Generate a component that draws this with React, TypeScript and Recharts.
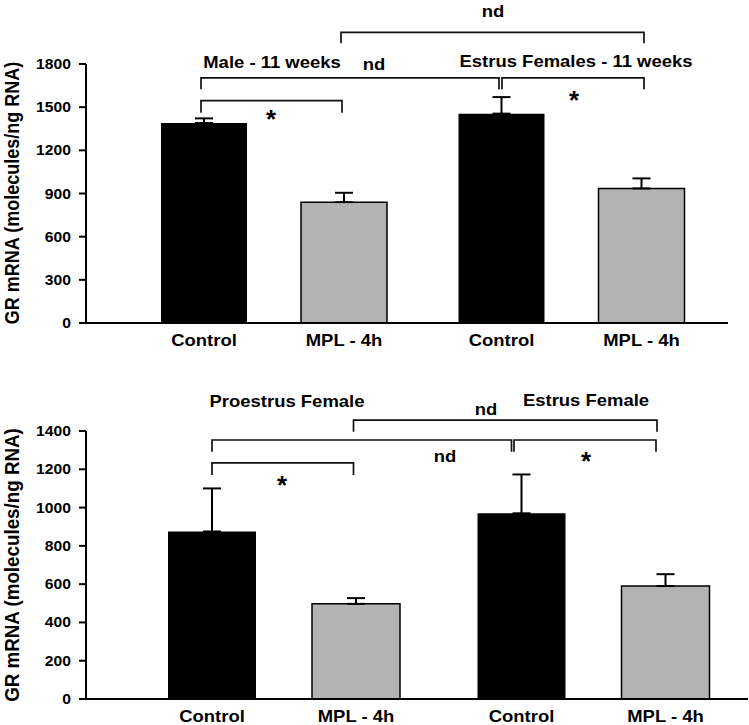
import { BarChart, Bar, XAxis, YAxis, ErrorBar, LabelList, Customized } from 'recharts';
import * as Recharts from 'recharts';

const seriesNames = ['Control', 'MPL - 4h'];

// top panel: male vs estrus female, 11 weeks
const topGroups = ['Male - 11 weeks', 'Estrus Females - 11 weeks'];
const topControl = [1390, 1455];
const topControlErr = [32, 115];
const topMpl = [840, 935];
const topMplErr = [65, 70];
const topTicks = [0, 300, 600, 900, 1200, 1500, 1800];

// bottom panel: proestrus vs estrus female
const bottomGroups = ['Proestrus Female', 'Estrus Female'];
const bottomControl = [875, 970];
const bottomControlErr = [225, 203];
const bottomMpl = [497, 590];
const bottomMplErr = [30, 62];
const bottomTicks = [0, 200, 400, 600, 800, 1000, 1200, 1400];

// significance brackets: bar index 0..3, levels in y units
type Bracket = { from: number; to: number; top: number; foot: number; dx: [number, number] };
const topBrackets: Bracket[] = [
  { from: 0, to: 1, top: 1545, foot: 1461, dx: [-2, -1] },
  { from: 0, to: 2, top: 1703, foot: 1624, dx: [-2, -1.5] },
  { from: 2, to: 3, top: 1703, foot: 1624, dx: [1.5, 3.5] },
  { from: 1, to: 3, top: 2020, foot: 1944, dx: [-2, 3.5] },
];
const bottomBrackets: Bracket[] = [
  { from: 0, to: 1, top: 1234, foot: 1170, dx: [1, -1.5] },
  { from: 0, to: 2, top: 1353, foot: 1292, dx: [1, -9] },
  { from: 2, to: 3, top: 1353, foot: 1292, dx: [-6.5, -8.5] },
  { from: 1, to: 3, top: 1457, foot: 1396, dx: [-1.5, -7.5] },
];

type Note = { text: string; x: number; y: number; size: number };
const topNotes: Note[] = [
  { text: topGroups[0], x: 272, y: 68, size: 16.5 },
  { text: topGroups[1], x: 576, y: 67, size: 16.5 },
  { text: 'nd', x: 493, y: 17, size: 16.5 },
  { text: 'nd', x: 374, y: 70, size: 16.5 },
  { text: '*', x: 271, y: 128, size: 26 },
  { text: '*', x: 574, y: 109, size: 26 },
];
const bottomNotes: Note[] = [
  { text: bottomGroups[0], x: 287, y: 47, size: 16.5 },
  { text: bottomGroups[1], x: 586, y: 46, size: 16.5 },
  { text: 'nd', x: 486, y: 55, size: 16.5 },
  { text: 'nd', x: 445, y: 102, size: 16.5 },
  { text: '*', x: 282, y: 134, size: 26 },
  { text: '*', x: 586, y: 110, size: 26 },
];

const FONT = "'Liberation Sans', Arial, Helvetica, sans-serif";
const SX = 1.12;
const usePlotAreaMaybe: () => any = (Recharts as any).usePlotArea ?? (() => undefined);

function SText({ x, y, size, sx = SX, rotate = 0, anchor = 'middle', children }: any) {
  return (
    <text
      transform={`translate(${x},${y}) scale(${sx},1)${rotate ? ` rotate(${rotate})` : ''}`}
      textAnchor={anchor}
      fontFamily={FONT}
      fontWeight={700}
      fontSize={size}
      fill="#000"
    >
      {children}
    </text>
  );
}

const renderYTick = (p: any) => (
  <SText x={p.x} y={p.y + 14 * 0.36} size={14} sx={1.12} anchor="end">
    {p.payload.value}
  </SText>
);

const nameLabel = (name: string) => (p: any) => {
  const vb = p.viewBox && p.viewBox.width != null ? p.viewBox : p;
  const cx = Number(vb.x) + Number(vb.width) / 2;
  const bottom = Number(vb.y) + Number(vb.height);
  return (
    <SText key={`${name}-${p.index}`} x={cx} y={bottom + 23} size={16.5}>
      {name}
    </SText>
  );
};

interface PanelCfg {
  groups: string[];
  control: number[];
  controlErr: number[];
  mpl: number[];
  mplErr: number[];
  ticks: number[];
  brackets: Bracket[];
  notes: Note[];
  top: number;
  height: number;
  marginTop: number;
  marginRight: number;
  xAxisH: number;
  padL: number;
  padR: number;
  barSize: number;
  barGap: number;
  title: { x: number; y: number; size: number };
}

function Annotations({ cfg }: { cfg: PanelCfg }) {
  const area = usePlotAreaMaybe();
  const yMax = cfg.ticks[cfg.ticks.length - 1];
  const plot =
    area && Number.isFinite(area.width)
      ? area
      : {
          x: 86,
          y: cfg.marginTop,
          width: 749 - 86 - cfg.marginRight,
          height: cfg.height - cfg.marginTop - cfg.xAxisH,
        };
  const yOf = (v: number) => plot.y + plot.height * (1 - v / yMax);
  const band = (plot.width - cfg.padL - cfg.padR) / 2;
  const off = Math.floor((band - (cfg.barSize * 2 + cfg.barGap)) / 2);
  const xOf = (i: number) =>
    plot.x + cfg.padL + Math.floor(i / 2) * band + off + (i % 2) * (cfg.barSize + cfg.barGap) + cfg.barSize / 2;

  return (
    <g>
      {cfg.brackets.map((b, i) => {
        const x1 = xOf(b.from) + b.dx[0];
        const x2 = xOf(b.to) + b.dx[1];
        return (
          <path
            key={i}
            d={`M${x1},${yOf(b.foot)}V${yOf(b.top)}H${x2}V${yOf(b.foot)}`}
            fill="none"
            stroke="#111"
            strokeWidth={1.7}
          />
        );
      })}
      {cfg.notes.map((n, i) => (
        <SText key={i} x={n.x} y={n.y} size={n.size} sx={n.text === '*' ? 1 : SX}>
          {n.text}
        </SText>
      ))}
      <SText x={cfg.title.x} y={cfg.title.y} size={cfg.title.size} rotate={-90}>
        GR mRNA (molecules/ng RNA)
      </SText>
    </g>
  );
}

function Panel({ cfg }: { cfg: PanelCfg }) {
  const data = cfg.groups.map((g, i) => ({
    group: g,
    control: cfg.control[i],
    controlErr: [0, cfg.controlErr[i]],
    mpl: cfg.mpl[i],
    mplErr: [0, cfg.mplErr[i]],
  }));
  const yMax = cfg.ticks[cfg.ticks.length - 1];
  return (
    <div style={{ position: 'absolute', left: 0, top: cfg.top }}>
      <BarChart
        width={749}
        height={cfg.height}
        data={data}
        margin={{ top: cfg.marginTop, right: cfg.marginRight, bottom: 0, left: 0 }}
        barSize={cfg.barSize}
        barGap={cfg.barGap}
      >
        <XAxis
          dataKey="group"
          tick={false}
          tickLine={false}
          axisLine={{ stroke: '#000', strokeWidth: 2 }}
          height={cfg.xAxisH}
          padding={{ left: cfg.padL, right: cfg.padR }}
        />
        <YAxis
          width={86}
          domain={[0, yMax]}
          ticks={cfg.ticks}
          interval={0}
          tick={renderYTick}
          tickSize={7}
          tickMargin={8}
          tickLine={{ stroke: '#000', strokeWidth: 2 }}
          axisLine={{ stroke: '#000', strokeWidth: 2 }}
          allowDataOverflow
        />
        <Bar dataKey="control" fill="#000" isAnimationActive={false}>
          <ErrorBar dataKey="controlErr" width={9} stroke="#000" strokeWidth={2} isAnimationActive={false} />
          <LabelList dataKey="control" content={nameLabel(seriesNames[0])} />
        </Bar>
        <Bar dataKey="mpl" fill="#b3b3b3" stroke="#000" strokeWidth={1.5} isAnimationActive={false}>
          <ErrorBar dataKey="mplErr" width={9} stroke="#000" strokeWidth={2} isAnimationActive={false} />
          <LabelList dataKey="mpl" content={nameLabel(seriesNames[1])} />
        </Bar>
        <Customized component={<Annotations cfg={cfg} />} />
      </BarChart>
    </div>
  );
}

const topCfg: PanelCfg = {
  groups: topGroups,
  control: topControl,
  controlErr: topControlErr,
  mpl: topMpl,
  mplErr: topMplErr,
  ticks: topTicks,
  brackets: topBrackets,
  notes: topNotes,
  top: 0,
  height: 353,
  marginTop: 64,
  marginRight: 21,
  xAxisH: 30,
  padL: 39,
  padR: 8,
  barSize: 86,
  barGap: 54,
  title: { x: 19, y: 193, size: 18 },
};

const bottomCfg: PanelCfg = {
  groups: bottomGroups,
  control: bottomControl,
  controlErr: bottomControlErr,
  mpl: bottomMpl,
  mplErr: bottomMplErr,
  ticks: bottomTicks,
  brackets: bottomBrackets,
  notes: bottomNotes,
  top: 360,
  height: 365,
  marginTop: 71,
  marginRight: 1,
  xAxisH: 26,
  padL: 43,
  padR: 0,
  barSize: 88,
  barGap: 56,
  title: { x: 19, y: 205, size: 18.8 },
};

export default function App() {
  return (
    <div style={{ position: 'absolute', left: 0, top: 0, width: 749, height: 725, background: '#fff' }}>
      <Panel cfg={topCfg} />
      <Panel cfg={bottomCfg} />
    </div>
  );
}
